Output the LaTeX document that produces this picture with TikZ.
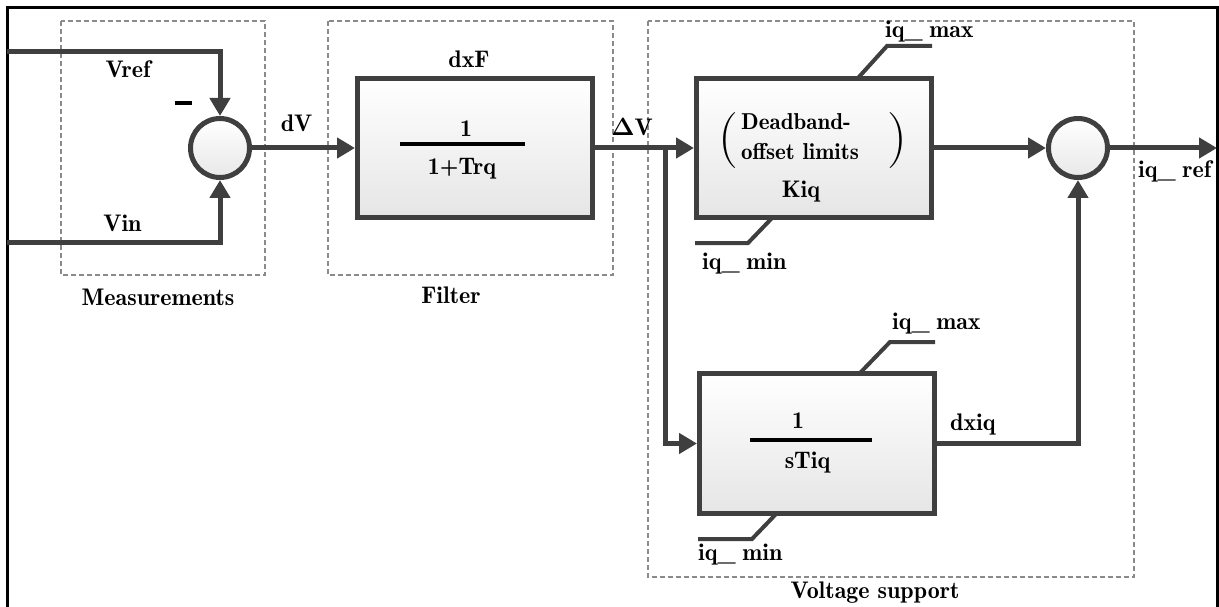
\documentclass[tikz,border=0pt]{standalone}
\usetikzlibrary{arrows.meta}
\definecolor{dgray}{HTML}{3F3F3F}
\definecolor{grpgray}{HTML}{8A8A8A}
\newcommand\lbf{\fontsize{24}{28}\fontseries{b}\selectfont}
\newcommand\dbf{\fontsize{23}{27}\fontseries{b}\selectfont}
\newcommand\parfont{\fontsize{56}{56}\fontseries{m}\selectfont}
\begin{document}
\begin{tikzpicture}[x=1pt,y=-1pt,
  wire/.style={draw=dgray,line width=5pt},
  arr/.style={wire,-{Triangle[length=18pt,width=20pt]}},
  blk/.style={rectangle,draw=dgray,line width=5pt,top color=white,bottom color=black!10,minimum width=235pt,minimum height=139pt,inner sep=0pt},
  sumc/.style={circle,draw=dgray,line width=5pt,top color=white,bottom color=black!9,minimum size=59pt,inner sep=0pt},
  grp/.style={draw=grpgray,line width=1.1pt,dash pattern=on 5pt off 3pt},
  lbl/.style={font=\lbf,inner sep=0pt,anchor=base},
  lbw/.style={font=\lbf,inner sep=0pt,anchor=base west},
  dbw/.style={font=\dbf,inner sep=0pt,anchor=base west},
  lim/.style={draw=dgray,line width=4pt},
  fracl/.style={draw=black,line width=4pt},
  frameline/.style={draw=black,line width=3pt}]
\useasboundingbox (0,0) rectangle (1219,607);

% outer frame
\draw[frameline] (7.5,607) -- (7.5,7.5) -- (1217.5,7.5) -- (1217.5,607);

% groups
\draw[grp] (61,21) rectangle (265,275);
\draw[grp] (328,21) rectangle (613,275);
\draw[grp] (648,21) rectangle (1134,577);

% blocks
\node[sumc] (sum1) at (220,148) {};
\node[blk] (filt) at (475,148) {};
\node[blk] (db) at (814,148) {};
\node[sumc] (sum2) at (1078,148) {};
\node[blk,minimum height=140pt] (integ) at (817,443.5) {};

% free ends
\coordinate (vrefin) at (7,52);
\coordinate (vinin) at (7,242);
\coordinate (out) at (1217,148);
\coordinate (br) at (665,148);

% connectors
\draw[arr] (vrefin) -| (sum1.north);
\draw[arr] (vinin) -| (sum1.south);
\draw[arr] (sum1.east) -- (filt.west);
\draw[arr] (filt.east) -- (db.west);
\draw[arr] (br) |- (integ.west);
\draw[arr] (db.east) -- (sum2.west);
\draw[arr] (sum2.east) -- (out);
\draw[arr] (integ.east) -| (sum2.south);

% limit lines
\draw[lim] (858,78) -- (887,46) -- (932,46);
\draw[lim] (773,217) -- (748,243) -- (695,243);
\draw[lim] (860,373) -- (890,342) -- (935,342);
\draw[lim] (777,513) -- (752,539) -- (698,539);

% fraction lines
\draw[fracl] (400,144) -- (525,144);
\draw[fracl] (750,440) -- (872,440);

% labels
\node[lbl] (lvref) at (128,78) {Vref};
\node[inner sep=0pt] (lminus) at (183.5,103) {\rule{17pt}{4pt}};
\node[lbl] (lvin) at (122.5,232) {Vin};
\node[lbl] (ldv) at (296.5,132) {dV};
\node[lbl] (ldxf) at (469,68) {dxF};
\node[lbl] (lfn) at (466,137) {1};
\node[lbl] (lfd) at (462,175) {1+Trq};
\node[lbl] (ldeltav) at (632,136) {$\mathbf{\Delta}$V};
\node[lbw] (lmax1) at (885,38) {iq\_\;max};
\node[dbw] (ldb1) at (741,130) {Deadband-};
\node[dbw] (ldb2) at (741,160) {offset limits};
\node[inner sep=0pt,font=\parfont] (lpl) at (728,141) {(};
\node[inner sep=0pt,font=\parfont] (lpr) at (897,141) {)};
\node[lbl] (lkiq) at (801,197) {Kiq};
\node[lbw] (lmin1) at (702,269) {iq\_\;min};
\node[lbw] (lref) at (1138,178) {iq\_\;ref};
\node[lbw] (lmax2) at (892,329) {iq\_\;max};
\node[lbl] (lin) at (798,428) {1};
\node[lbl] (lid) at (807.5,468) {sTiq};
\node[lbw] (ldxiq) at (950,430) {dxiq};
\node[lbw] (lmin2) at (698,560) {iq\_\;min};
\node[lbl] (lmeas) at (158,305) {Measurements};
\node[lbl] (lfilt) at (451,303) {Filter};
\node[lbl] (lvs) at (875,598) {Voltage support};
\end{tikzpicture}
\end{document}
